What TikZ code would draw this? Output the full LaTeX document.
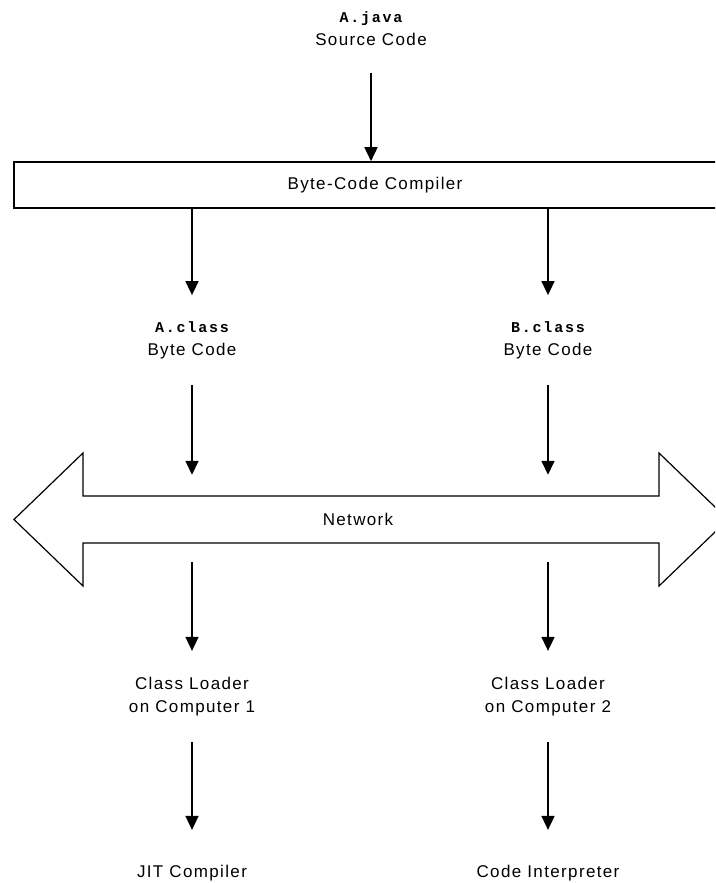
\documentclass[tikz,border=0pt]{standalone}
\usepackage{fontspec}
\setmainfont{Liberation Sans}[LetterSpace=8]
\newfontfamily\codefont{Liberation Mono}[LetterSpace=12]
\usetikzlibrary{arrows.meta}

\begin{document}
\begin{tikzpicture}[x=1pt,y=-1pt,
  lbl/.style={align=center,inner sep=0pt,font=\fontsize{17}{23}\selectfont},
  flow/.style={-{Triangle[width=13pt,length=14pt]},line width=1.6pt},
  netshape/.style={line width=1.2pt,line join=miter}]
\useasboundingbox (0,0) rectangle (715,883);
\clip (0,0) rectangle (715,883);
\node[lbl] (src) at (371,28.5) {{\codefont\bfseries\fontsize{15}{23}\selectfont A.java}\\Source Code};
\node[lbl,draw,line width=1.6pt,minimum width=722,minimum height=46] (comp) at (375,185) {Byte-Code Compiler};
\node[lbl] (aclass) at (192,340) {{\codefont\bfseries\fontsize{15}{23}\selectfont A.class}\\Byte Code};
\node[lbl] (bclass) at (548,340) {{\codefont\bfseries\fontsize{15}{23}\selectfont B.class}\\Byte Code};
\draw[netshape] (14,519.5) -- (83,453) -- (83,496) -- (659,496) -- (659,453) -- (728,519.5)
  -- (659,586) -- (659,543) -- (83,543) -- (83,586) -- cycle;
\node[lbl,minimum height=47] (net) at (358,519.5) {Network};
\node[lbl] (loadA) at (192,696.5) {Class Loader\\on Computer 1};
\node[lbl] (loadB) at (548,696.5) {Class Loader\\on Computer 2};
\node[lbl] (jit) at (192,873) {JIT Compiler};
\node[lbl] (interp) at (548,873) {Code Interpreter};
\draw[flow,shorten <=27pt] (src) -- (src |- comp.north);
\draw[flow,shorten >=26pt] (comp.south -| aclass) -- (aclass);
\draw[flow,shorten >=26pt] (comp.south -| bclass) -- (bclass);
\draw[flow,shorten <=26pt,shorten >=21pt] (aclass) -- (aclass |- net.north);
\draw[flow,shorten <=26pt,shorten >=21pt] (bclass) -- (bclass |- net.north);
\draw[flow,shorten <=19pt,shorten >=26pt] (net.south -| loadA) -- (loadA);
\draw[flow,shorten <=19pt,shorten >=26pt] (net.south -| loadB) -- (loadB);
\draw[flow,shorten <=26pt,shorten >=35pt] (loadA) -- (jit);
\draw[flow,shorten <=26pt,shorten >=35pt] (loadB) -- (interp);
\end{tikzpicture}
\end{document}
